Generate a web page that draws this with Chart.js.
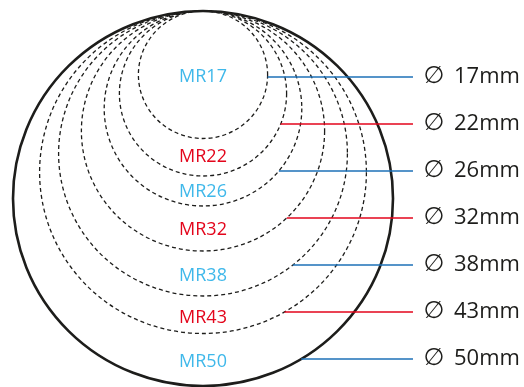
<!DOCTYPE html>
<html>
<head>
<meta charset="utf-8">
<script src="https://cdn.jsdelivr.net/npm/chart.js@4/dist/chart.umd.min.js"></script>
<style>
  html, body { margin: 0; padding: 0; background: #fff; }
  #wrap { width: 524px; height: 387px; }
</style>
</head>
<body>
<div id="wrap"><canvas id="c" width="524" height="387"></canvas></div>
<script>
// lamp sizes, all circles touch at the top (mm)
const sizes = ["MR17", "MR22", "MR26", "MR32", "MR38", "MR43", "MR50"];
const diameters = [17, 22, 26, 32, 38, 43, 50];
const diaLabels = ["17mm", "22mm", "26mm", "32mm", "38mm", "43mm", "50mm"];
// depth (mm from top) where each leader line and name sits
const leaderY = [8.8, 15.07, 21.33, 27.6, 33.87, 40.13, 46.4];
const nameY = [8.8, 19.47, 24.13, 29.2, 35.33, 40.93, 46.8];
const leaderEndX = 27.63;

const BLUE = "#1d70b7";
const RED = "#e3051b";
const NAME_BLUE = "#3fb8ea";
const INK = "#1d1d1b";
const lineColor = (i) => (i % 2 === 0 ? BLUE : RED);
const nameColor = (i) => (i % 2 === 0 ? NAME_BLUE : RED);

// where the leader touches the circle on its right side
function leaderStart(d, y) {
  const r = d / 2;
  const dy = y - r;
  return Math.sqrt(Math.max(0, r * r - dy * dy));
}

const datasets = diameters.map((d, i) => ({
  label: diaLabels[i],
  data: [
    { x: leaderStart(d, leaderY[i]), y: leaderY[i] },
    { x: leaderEndX, y: leaderY[i] },
  ],
  showLine: true,
  borderColor: lineColor(i),
  borderWidth: 1.6,
  pointRadius: 0,
}));

const circles = {
  id: "circles",
  beforeDatasetsDraw(chart) {
    const { ctx, scales } = chart;
    const x = scales.x, y = scales.y;
    ctx.save();
    diameters.forEach((d, i) => {
      const r = d / 2;
      const cx = x.getPixelForValue(0);
      const cy = y.getPixelForValue(r);
      const rx = x.getPixelForValue(r) - cx;
      const ry = y.getPixelForValue(r) - y.getPixelForValue(0);
      const outer = i === diameters.length - 1;
      ctx.beginPath();
      ctx.ellipse(cx, cy, rx, ry, 0, 0, Math.PI * 2);
      ctx.strokeStyle = INK;
      ctx.lineWidth = outer ? 2.6 : 1.3;
      ctx.setLineDash(outer ? [] : [4, 3]);
      ctx.stroke();
    });
    ctx.restore();
  },
  afterDatasetsDraw(chart) {
    const { ctx, scales } = chart;
    const x = scales.x, y = scales.y;
    ctx.save();
    ctx.textBaseline = "middle";
    sizes.forEach((s, i) => {
      ctx.font = "18px 'Open Sans', sans-serif";
      ctx.textAlign = "center";
      ctx.fillStyle = nameColor(i);
      ctx.fillText(s, x.getPixelForValue(0), y.getPixelForValue(nameY[i]));

      const px = x.getPixelForValue(leaderEndX);
      const py = y.getPixelForValue(leaderY[i]);
      ctx.fillStyle = INK;
      ctx.font = "24px 'DejaVu Sans', sans-serif";
      ctx.fillText("\u2205", px + 21, py);
      ctx.font = "22px 'Open Sans', sans-serif";
      ctx.textAlign = "left";
      ctx.fillText(diaLabels[i], px + 41, py);
    });
    ctx.restore();
  },
};

new Chart(document.getElementById("c"), {
  type: "scatter",
  data: { datasets },
  options: {
    responsive: false,
    animation: false,
    devicePixelRatio: 1,
    layout: { padding: 0 },
    plugins: { legend: { display: false }, tooltip: { enabled: false } },
    scales: {
      x: { type: "linear", display: false, min: -203 / 7.6, max: 321 / 7.6 },
      y: { type: "linear", display: false, reverse: true, min: -11 / 7.5, max: 376 / 7.5 },
    },
  },
  plugins: [circles],
});
</script>
</body>
</html>
